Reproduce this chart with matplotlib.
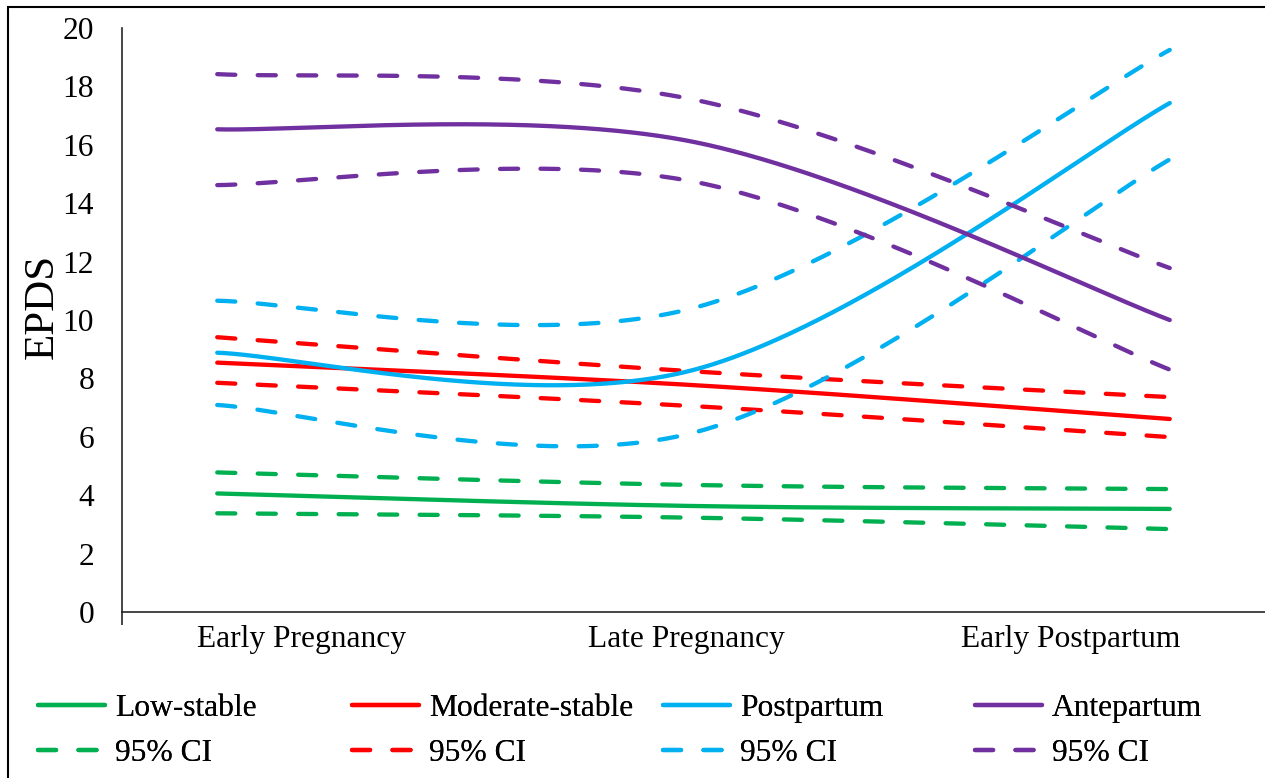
import numpy as np
import matplotlib
matplotlib.use("Agg")
import matplotlib.pyplot as plt
from matplotlib.lines import Line2D
from matplotlib.patches import Rectangle

# ---------------- data ----------------
categories = ["Early Pregnancy", "Late Pregnancy", "Early Postpartum"]
x_points = [0.25, 1.5, 2.75]

low_stable = [4.06, 3.63, 3.53]
low_lo = [3.38, 3.23, 2.84]
low_hi = [4.78, 4.35, 4.21]

moderate_stable = [8.54, 7.77, 6.61]
moderate_lo = [7.85, 7.05, 5.99]
moderate_hi = [9.41, 8.24, 7.36]

postpartum = [8.88, 8.29, 17.43]
postpartum_lo = [7.09, 6.14, 15.50]
postpartum_hi = [10.66, 10.41, 19.25]

antepartum = [16.53, 16.10, 10.00]
antepartum_lo = [14.62, 14.74, 8.30]
antepartum_hi = [18.42, 17.55, 11.78]

series_names = ["Low-stable", "Moderate-stable", "Postpartum", "Antepartum"]
ci_label = "95% CI"
y_ticks = list(range(0, 21, 2))

# ---------------- style ----------------
colors = ["#00B050", "#FF0000", "#00B0F0", "#7030A0"]
plt.rcParams["font.family"] = ["Liberation Serif", "DejaVu Serif"]
FS = 22.7
LW = 3.1
DASH = (4.2, 5.2)
SPINE = "#262626"


def excel_smooth(x, y, n=200):
    """Excel-like smoothed line: Catmull-Rom as cubic Bezier segments."""
    P = np.column_stack([x, y]).astype(float)
    m = len(P)
    out = []
    t = np.linspace(0, 1, n)[:, None]
    for i in range(m - 1):
        p0 = P[i - 1] if i > 0 else P[i]
        p1 = P[i]
        p2 = P[i + 1]
        p3 = P[i + 2] if i + 2 < m else P[i + 1]
        c1 = p1 + (p2 - p0) / 6.0
        c2 = p2 - (p3 - p1) / 6.0
        seg = ((1 - t) ** 3) * p1 + 3 * ((1 - t) ** 2) * t * c1 + 3 * (1 - t) * t ** 2 * c2 + t ** 3 * p2
        out.append(seg if i == 0 else seg[1:])
    seg = np.vstack(out)
    return seg[:, 0], seg[:, 1]


W, H = 1265, 778
fig = plt.figure(figsize=(W / 100, H / 100), dpi=100)
ax = fig.add_axes([122 / W, 1 - 612 / H, 1 - 122 / W, (612 - 28) / H])

groups = [
    (low_stable, low_lo, low_hi),
    (moderate_stable, moderate_lo, moderate_hi),
    (postpartum, postpartum_lo, postpartum_hi),
    (antepartum, antepartum_lo, antepartum_hi),
]

for (mid, lo, hi), col in zip(groups, colors):
    for arr in (lo, hi):
        xs, ys = excel_smooth(x_points, arr)
        ax.plot(xs, ys, color=col, lw=LW, dashes=DASH, dash_capstyle="round",
                solid_capstyle="round")
    xs, ys = excel_smooth(x_points, mid)
    ax.plot(xs, ys, color=col, lw=LW, solid_capstyle="round")

ax.set_xlim(0, 3)
ax.set_ylim(0, 20)
ax.set_yticks(y_ticks)
ax.set_yticklabels([str(v) for v in y_ticks], fontsize=FS)
ax.tick_params(axis="y", length=0, pad=20)
ax.set_xticks([0.47, 1.48, 2.49])
ax.set_xticklabels(categories, fontsize=FS)
ax.tick_params(axis="x", which="major", length=0, pad=9)
ax.set_xticks([0], minor=True)
ax.tick_params(axis="x", which="minor", length=9.4, width=1.2, color=SPINE, direction="out")

for s in ["top", "right"]:
    ax.spines[s].set_visible(False)
for s in ["left", "bottom"]:
    ax.spines[s].set_color(SPINE)
    ax.spines[s].set_linewidth(1.2)

fig.text(42 / W, 1 - 306 / H, "EPDS", rotation=90, ha="center", va="center", fontsize=31)

# legends: one per series, two rows each, evenly spaced columns
leg_x = [38, 352, 663, 975]
for name, col, lx in zip(series_names, colors, leg_x):
    h_solid = Line2D([], [], color=col, lw=LW, solid_capstyle="round")
    h_dash = Line2D([], [], color=col, lw=LW, dashes=DASH, dash_capstyle="round")
    leg = fig.legend([h_solid, h_dash], [name, ci_label], loc="center left",
                     bbox_to_anchor=(lx / W, 1 - 731 / H), frameon=False,
                     borderpad=0, borderaxespad=0, handlelength=2.13,
                     handletextpad=0.32, labelspacing=0.5, fontsize=FS)
    fig.add_artist(leg)

fig.add_artist(Rectangle((8 / W, -0.1), 2.0, 1.1 - 7 / H, transform=fig.transFigure,
                         fill=False, edgecolor="black", lw=1.5))

fig.savefig("out.png", dpi=100)
